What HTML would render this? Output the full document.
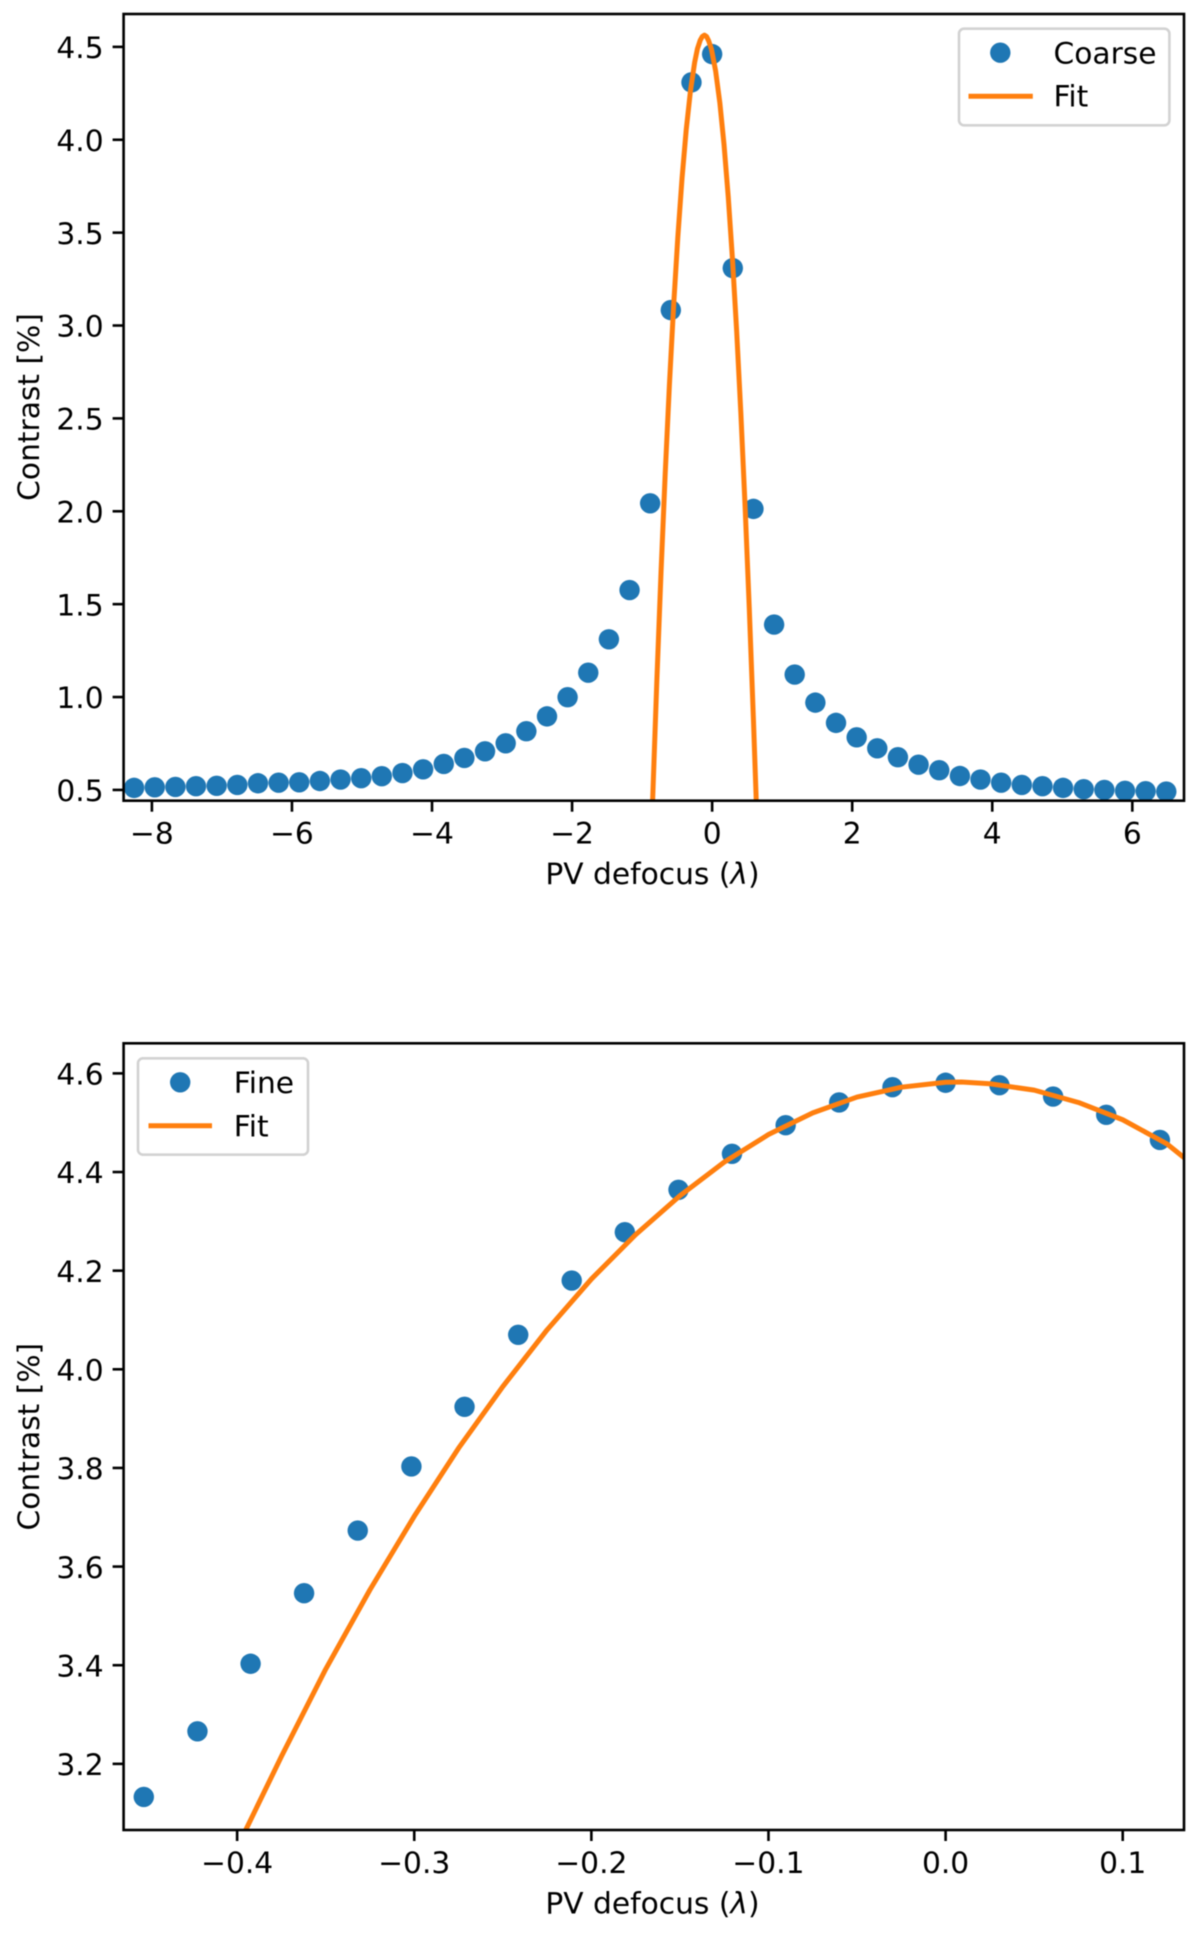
<!DOCTYPE html>
<html lang="en">
<head>
<meta charset="utf-8">
<title>Contrast vs PV defocus</title>
<style>
  html, body { margin: 0; padding: 0; background: #fff; }
  svg { display: block; filter: blur(0.4px); }
  text { font-family: "DejaVu Sans", "Liberation Sans", sans-serif; font-size: 29.7px; fill: #000; }
</style>
</head>
<body>
<svg id="chart" xmlns="http://www.w3.org/2000/svg" width="1200" height="1939" viewBox="0 0 1200 1939">
  <defs>
    <clipPath id="clip-coarse"><rect x="123.6" y="14" width="1060.4" height="786.7"/></clipPath>
    <clipPath id="clip-fine"><rect x="123.6" y="1043.3" width="1060.4" height="786.7"/></clipPath>
  </defs>
  <rect x="0" y="0" width="1200" height="1939" fill="#fff"/>

  <g id="coarse-panel">
    <g id="coarse-points" clip-path="url(#clip-coarse)"></g>
    <g id="coarse-fit" clip-path="url(#clip-coarse)"></g>
    <g id="coarse-x-axis"></g>
    <g id="coarse-y-axis"></g>
    <rect x="123.6" y="14" width="1060.4" height="786.7" fill="none" stroke="#000" stroke-width="2.6"/>
    <text x="652.5" y="884" text-anchor="middle">PV defocus (<tspan font-style="italic">λ</tspan>)</text>
    <text transform="translate(39 407) rotate(-90)" text-anchor="middle">Contrast [%]</text>
    <g>
      <rect x="959" y="28.7" width="210.4" height="96.6" rx="5" fill="#fff" fill-opacity="0.8" stroke="#d2d2d2" stroke-width="2.6"/>
      <circle cx="1000.3" cy="52.7" r="10.2" fill="#1f77b4"/>
      <text x="1053.5" y="63.3">Coarse</text>
      <line x1="968.5" y1="96.3" x2="1032.8" y2="96.3" stroke="#ff7f0e" stroke-width="5"/>
      <text x="1053.5" y="106.7">Fit</text>
    </g>
  </g>

  <g id="fine-panel">
    <g id="fine-points" clip-path="url(#clip-fine)"></g>
    <g id="fine-fit" clip-path="url(#clip-fine)"></g>
    <g id="fine-x-axis"></g>
    <g id="fine-y-axis"></g>
    <rect x="123.6" y="1043.3" width="1060.4" height="786.7" fill="none" stroke="#000" stroke-width="2.6"/>
    <text x="652.5" y="1913.3" text-anchor="middle">PV defocus (<tspan font-style="italic">λ</tspan>)</text>
    <text transform="translate(39 1436.7) rotate(-90)" text-anchor="middle">Contrast [%]</text>
    <g>
      <rect x="138" y="1058.3" width="170" height="96.4" rx="5" fill="#fff" fill-opacity="0.8" stroke="#d2d2d2" stroke-width="2.6"/>
      <circle cx="180.2" cy="1082.3" r="10.2" fill="#1f77b4"/>
      <text x="233.8" y="1093">Fine</text>
      <line x1="148.5" y1="1125.7" x2="212" y2="1125.7" stroke="#ff7f0e" stroke-width="5"/>
      <text x="233.8" y="1136.3">Fit</text>
    </g>
  </g>
</svg>
<script>
const coarseDefocus = [-8.254,-7.959,-7.664,-7.370,-7.075,-6.780,-6.485,-6.190,-5.896,-5.601,-5.306,-5.011,-4.717,-4.422,-4.127,-3.832,-3.538,-3.243,-2.948,-2.653,-2.358,-2.064,-1.769,-1.474,-1.179,-0.885,-0.590,-0.295,0.000,0.295,0.590,0.885,1.179,1.474,1.769,2.064,2.358,2.653,2.948,3.243,3.538,3.832,4.127,4.422,4.717,5.011,5.306,5.601,5.896,6.190,6.485];
const coarseContrast = [0.511,0.514,0.516,0.520,0.522,0.527,0.536,0.539,0.541,0.548,0.556,0.563,0.574,0.591,0.611,0.640,0.672,0.708,0.751,0.816,0.896,0.999,1.131,1.311,1.576,2.043,3.083,4.309,4.461,3.309,2.013,1.390,1.121,0.970,0.861,0.783,0.724,0.676,0.636,0.606,0.575,0.556,0.539,0.527,0.520,0.511,0.504,0.500,0.495,0.493,0.491];
const coarseFitDefocus = [-0.85,-0.79,-0.73,-0.67,-0.61,-0.55,-0.49,-0.43,-0.37,-0.31,-0.25,-0.21,-0.17,-0.14,-0.11,-0.08,-0.05,-0.01,0.05,0.11,0.17,0.23,0.29,0.35,0.41,0.47,0.53,0.59,0.63];
const coarseFitContrast = [0.442,1.083,1.670,2.203,2.682,3.106,3.476,3.792,4.054,4.262,4.416,4.490,4.536,4.556,4.563,4.556,4.533,4.488,4.370,4.199,3.973,3.693,3.359,2.971,2.528,2.032,1.481,0.876,0.442];
const coarseXTicks = [-8,-6,-4,-2,0,2,4,6];
const coarseXLabels = ["−8","−6","−4","−2","0","2","4","6"];
const coarseYTicks = [0.5,1.0,1.5,2.0,2.5,3.0,3.5,4.0,4.5];
const coarseYLabels = ["0.5","1.0","1.5","2.0","2.5","3.0","3.5","4.0","4.5"];
const coarseXLimits = [-8.404,6.738];
const coarseYLimits = [0.442,4.677];

const fineDefocus = [-0.4527,-0.4224,-0.3924,-0.3622,-0.3319,-0.3016,-0.2716,-0.2413,-0.2111,-0.1811,-0.1508,-0.1206,-0.0903,-0.0601,-0.0300,0.0000,0.0304,0.0607,0.0907,0.1210];
const fineContrast = [3.133,3.266,3.403,3.546,3.673,3.803,3.924,4.070,4.180,4.278,4.364,4.437,4.495,4.541,4.572,4.581,4.576,4.553,4.516,4.465];
const fineFitDefocus = [-0.400,-0.375,-0.350,-0.325,-0.300,-0.275,-0.250,-0.225,-0.200,-0.175,-0.150,-0.125,-0.100,-0.075,-0.050,-0.025,0.000,0.009,0.025,0.050,0.075,0.100,0.125,0.135];
const fineFitContrast = [3.030,3.215,3.392,3.553,3.702,3.840,3.965,4.080,4.183,4.273,4.352,4.420,4.476,4.520,4.552,4.572,4.582,4.5825,4.579,4.566,4.541,4.506,4.457,4.428];
const fineXTicks = [-0.4,-0.3,-0.2,-0.1,0.0,0.1];
const fineXLabels = ["−0.4","−0.3","−0.2","−0.1","0.0","0.1"];
const fineYTicks = [3.2,3.4,3.6,3.8,4.0,4.2,4.4,4.6];
const fineYLabels = ["3.2","3.4","3.6","3.8","4.0","4.2","4.4","4.6"];
const fineXLimits = [-0.4641,0.1346];
const fineYLimits = [3.0659,4.661];

const SVG_NS = "http://www.w3.org/2000/svg";

function linearScale(limits, start, end) {
  return function (v) {
    return start + (v - limits[0]) / (limits[1] - limits[0]) * (end - start);
  };
}

function drawPoints(groupId, xs, ys, xScale, yScale) {
  const group = document.getElementById(groupId);
  xs.forEach(function (x, i) {
    const c = document.createElementNS(SVG_NS, "circle");
    
    
    c.setAttribute("cx", xScale(x));
    c.setAttribute("cy", yScale(ys[i]));
    c.setAttribute("r", 10.2);
    c.setAttribute("fill", "#1f77b4");
    group.appendChild(c);
  });
}

function drawLine(groupId, xs, ys, xScale, yScale) {
  const group = document.getElementById(groupId);
  const p = document.createElementNS(SVG_NS, "polyline");
  
  
  p.setAttribute("points", xs.map(function (x, i) {
    return xScale(x).toFixed(2) + "," + yScale(ys[i]).toFixed(2);
  }).join(" "));
  p.setAttribute("fill", "none");
  p.setAttribute("stroke", "#ff7f0e");
  p.setAttribute("stroke-width", 5);
  p.setAttribute("stroke-linejoin", "round");
  group.appendChild(p);
}

function drawXAxis(groupId, ticks, labels, scale, axisY) {
  const group = document.getElementById(groupId);
  ticks.forEach(function (t, i) {
    const x = scale(t);
    const mark = document.createElementNS(SVG_NS, "line");
    
    
    mark.setAttribute("x1", x);
    mark.setAttribute("x2", x);
    mark.setAttribute("y1", axisY);
    mark.setAttribute("y2", axisY + 11);
    mark.setAttribute("stroke", "#000");
    mark.setAttribute("stroke-width", 2.6);
    group.appendChild(mark);
    const label = document.createElementNS(SVG_NS, "text");
    
    
    label.setAttribute("x", x);
    label.setAttribute("y", axisY + 43);
    label.setAttribute("text-anchor", "middle");
    label.textContent = labels[i];
    group.appendChild(label);
  });
}

function drawYAxis(groupId, ticks, labels, scale, axisX) {
  const group = document.getElementById(groupId);
  ticks.forEach(function (t, i) {
    const y = scale(t);
    const mark = document.createElementNS(SVG_NS, "line");
    
    
    mark.setAttribute("x1", axisX - 11);
    mark.setAttribute("x2", axisX);
    mark.setAttribute("y1", y);
    mark.setAttribute("y2", y);
    mark.setAttribute("stroke", "#000");
    mark.setAttribute("stroke-width", 2.6);
    group.appendChild(mark);
    const label = document.createElementNS(SVG_NS, "text");
    
    
    label.setAttribute("x", axisX - 20);
    label.setAttribute("y", y + 11.2);
    label.setAttribute("text-anchor", "end");
    label.textContent = labels[i];
    group.appendChild(label);
  });
}

const coarseX = linearScale(coarseXLimits, 123.6, 1184);
const coarseY = linearScale(coarseYLimits, 800.7, 14);
drawPoints("coarse-points", coarseDefocus, coarseContrast, coarseX, coarseY);
drawLine("coarse-fit", coarseFitDefocus, coarseFitContrast, coarseX, coarseY);
drawXAxis("coarse-x-axis", coarseXTicks, coarseXLabels, coarseX, 800.7);
drawYAxis("coarse-y-axis", coarseYTicks, coarseYLabels, coarseY, 123.6);

const fineX = linearScale(fineXLimits, 123.6, 1184);
const fineY = linearScale(fineYLimits, 1830, 1043.3);
drawPoints("fine-points", fineDefocus, fineContrast, fineX, fineY);
drawLine("fine-fit", fineFitDefocus, fineFitContrast, fineX, fineY);
drawXAxis("fine-x-axis", fineXTicks, fineXLabels, fineX, 1830);
drawYAxis("fine-y-axis", fineYTicks, fineYLabels, fineY, 123.6);
</script>
</body>
</html>
